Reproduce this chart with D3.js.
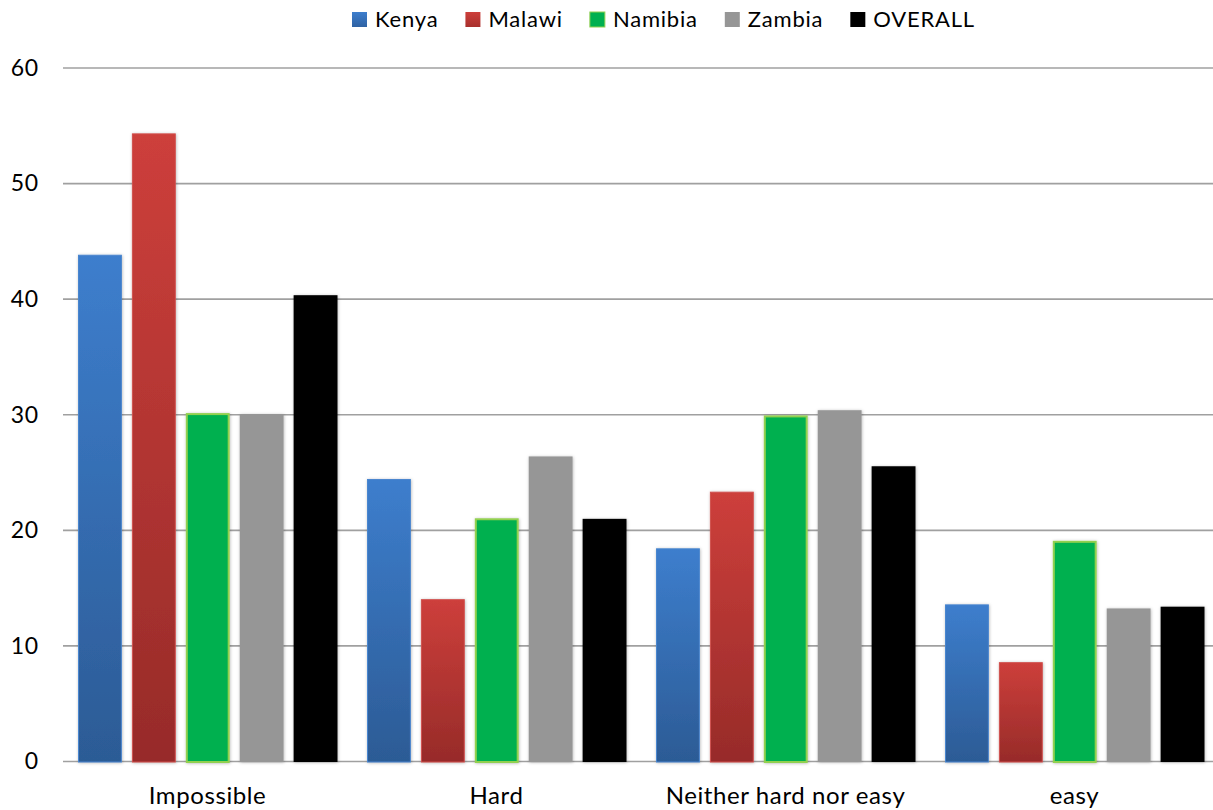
<!DOCTYPE html>
<html>
<head>
<meta charset="utf-8">
<script src="https://cdn.jsdelivr.net/npm/d3@7"></script>
<style>
  html, body { margin: 0; padding: 0; background: #fff; }
  svg { display: block; font-family: Lato, "Open Sans", sans-serif; }
</style>
</head>
<body>
<svg id="chart" width="1213" height="810"></svg>
<script>
const categories = ["Impossible", "Hard", "Neither hard nor easy", "easy"];
const seriesNames = ["Kenya", "Malawi", "Namibia", "Zambia", "OVERALL"];
const kenya   = [43.8, 24.4, 18.4, 13.55];
const malawi  = [54.3, 14.0, 23.3, 8.55];
const namibia = [30.1, 21.0, 29.9, 19.05];
const zambia  = [30.0, 26.35, 30.35, 13.2];
const overall = [40.3, 20.95, 25.5, 13.35];
const yTicks  = [0, 10, 20, 30, 40, 50, 60];

const seriesValues = [kenya, malawi, namibia, zambia, overall];

const svg = d3.select("#chart");
const W = 1213, H = 810;
const plot = { left: 63, right: 1219, top: 67.5, bottom: 761 };

const defs = svg.append("defs");
function vgrad(id, top, bottom) {
  const g = defs.append("linearGradient").attr("id", id)
    .attr("x1", 0).attr("y1", 0).attr("x2", 0).attr("y2", 1);
  g.append("stop").attr("offset", "0%").attr("stop-color", top);
  g.append("stop").attr("offset", "100%").attr("stop-color", bottom);
}
vgrad("gKenya", "#3d7ecd", "#2c5b95");
vgrad("gMalawi", "#cd3f3b", "#972b29");
vgrad("lKenya", "#3d7ecd", "#2f62a3");
vgrad("lMalawi", "#cd3f3b", "#a8302d");
const f = defs.append("filter").attr("id", "shadow")
  .attr("x", "-20%").attr("y", "-5%").attr("width", "140%").attr("height", "110%");
f.append("feDropShadow").attr("dx", 0.5).attr("dy", 0.5).attr("stdDeviation", 1.6)
  .attr("flood-color", "#000").attr("flood-opacity", 0.28);

const styles = {
  Kenya:   { fill: "url(#gKenya)", stroke: "#4a86cf", sw: 1, legend: "url(#lKenya)" },
  Malawi:  { fill: "url(#gMalawi)", stroke: "#d0504d", sw: 1, legend: "url(#lMalawi)" },
  Namibia: { fill: "#00b050", stroke: "#92d050", sw: 2, legend: "#00b050" },
  Zambia:  { fill: "#969696", stroke: "none", sw: 0, legend: "#969696" },
  OVERALL: { fill: "#000000", stroke: "none", sw: 0, legend: "#000000" }
};

const x0 = d3.scaleBand().domain(categories).range([plot.left, plot.right]).paddingInner(0).paddingOuter(0);
const groupPad = 15;
const x1 = d3.scaleBand().domain(seriesNames)
  .range([groupPad, x0.bandwidth() - 14.5]).paddingInner(0.186).paddingOuter(0);
const y = d3.scaleLinear().domain([0, 60]).range([plot.bottom, plot.top]);

// gridlines
const yAxis = d3.axisLeft(y).tickValues(yTicks).tickSize(-(W - plot.left)).tickPadding(24).tickFormat(d3.format("d"));
const gy = svg.append("g").attr("transform", `translate(${plot.left},0)`).call(yAxis);
gy.select(".domain").remove();
gy.selectAll(".tick line").attr("stroke", "#a0a0a0").attr("stroke-width", 1.6);
gy.selectAll(".tick text").attr("fill", "#000").attr("font-size", 23).attr("letter-spacing", 0.8)
  .attr("font-family", "Lato, 'Open Sans', sans-serif").attr("x", -24).attr("dy", "0.34em");

// bars
const groups = svg.append("g").selectAll("g").data(categories).join("g")
  .attr("transform", d => `translate(${x0(d)},0)`);

groups.selectAll("rect")
  .data((c, ci) => seriesNames.map((s, si) => ({ s, v: seriesValues[si][ci] })))
  .join("rect")
  .attr("x", d => x1(d.s) + styles[d.s].sw / 2)
  .attr("width", d => x1.bandwidth() - styles[d.s].sw)
  .attr("y", d => y(d.v) + styles[d.s].sw / 2)
  .attr("height", d => y(0) - y(d.v) + 1 - styles[d.s].sw / 2)
  .attr("fill", d => styles[d.s].fill)
  .attr("stroke", d => styles[d.s].stroke)
  .attr("stroke-width", d => styles[d.s].sw)
  .attr("filter", "url(#shadow)");

// x axis labels
const xAxis = d3.axisBottom(x0).tickSize(0).tickPadding(0);
const gx = svg.append("g").attr("transform", `translate(0,${plot.bottom})`).call(xAxis);
gx.select(".domain").remove();
gx.selectAll(".tick text").attr("fill", "#000").attr("font-size", 24).attr("letter-spacing", 0.6)
  .attr("font-family", "Lato, 'Open Sans', sans-serif").attr("y", 0).attr("dy", 43);

// legend
const legend = svg.append("g");
let lx = 352;
seriesNames.forEach(s => {
  legend.append("rect").attr("x", lx).attr("y", 12).attr("width", 15).attr("height", 15)
    .attr("fill", styles[s].legend)
    .attr("stroke", s === "Namibia" ? "#92d050" : "none").attr("stroke-width", 1);
  const t = legend.append("text").attr("x", lx + 23).attr("y", 27)
    .attr("font-size", 22).attr("letter-spacing", 0.8).attr("fill", "#000").text(s);
  const w = t.node().getComputedTextLength();
  lx += 23 + w + 27;
});
</script>
</body>
</html>
